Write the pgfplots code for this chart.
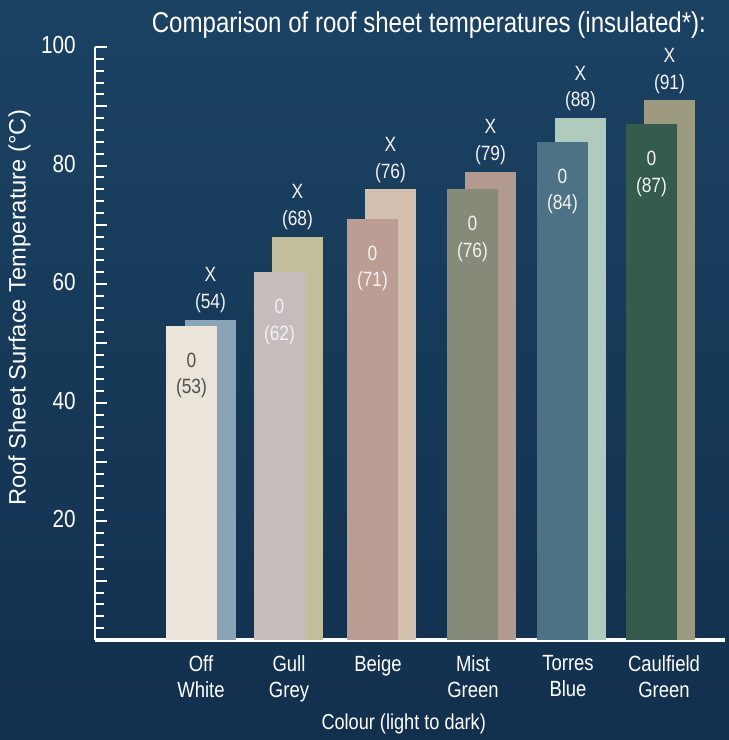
\documentclass[border=0pt]{standalone}
\usepackage{fontspec}
\setmainfont[FakeStretch=0.84]{Liberation Sans}
\newfontfamily\ylabfont{Liberation Sans}
\usepackage{pgfplots}
\pgfplotsset{compat=1.18}

% bar colours
\definecolor{bgtop}{HTML}{1B4263}
\definecolor{bgbot}{HTML}{12304D}
\definecolor{offwhite}{HTML}{EBE4D9}
\definecolor{offwhiteX}{HTML}{88A4B6}
\definecolor{gullgrey}{HTML}{C5BCBB}
\definecolor{gullgreyX}{HTML}{C2BD9B}
\definecolor{beige}{HTML}{BC9D93}
\definecolor{beigeX}{HTML}{D2BFAE}
\definecolor{mistgreen}{HTML}{858A79}
\definecolor{mistgreenX}{HTML}{B29A90}
\definecolor{torres}{HTML}{4D7185}
\definecolor{torresX}{HTML}{AECBBD}
\definecolor{caulfield}{HTML}{345B4C}
\definecolor{caulfieldX}{HTML}{9C9A80}
\definecolor{darklab}{HTML}{505050}
\definecolor{lightlab}{HTML}{F2F2F2}

\begin{document}
\begin{tikzpicture}
\shade[top color=bgtop, bottom color=bgbot] (0,0) rectangle (546.75pt,555pt);
\begin{axis}[
    at={(71.25pt,75pt)}, anchor=south west,
    scale only axis,
    width=472.5pt, height=444.75pt,
    xmin=95, xmax=725,
    ymin=0, ymax=100,
    clip=false,
    axis x line=bottom, axis y line=left,
    x axis line style={-, white, line width=3pt},
    y axis line style={-, white, line width=1.5pt},
    tick align=inside,
    xtick={201,289,378,473,568,664},
    xticklabels={Off\\White, Gull\\Grey, Beige, Mist\\Green, Torres\\Blue, Caulfield\\Green},
    x tick label style={align=center, text=white, font=\fontsize{16.5pt}{19.5pt}\selectfont, anchor=north, yshift=-8pt},
    major x tick style={draw=none},
    ytick={0,10,...,100},
    yticklabels={,,20,,40,,60,,80,,100},
    minor y tick num=4,
    y tick style={white, line width=1.5pt},
    major tick length=9pt,
    minor tick length=6.5pt,
    y tick label style={text=white, font=\fontsize{18.5pt}{21pt}\selectfont, xshift=-11pt, yshift=1.5pt},
    /pgf/number format/assume math mode=true,
    title={Comparison of roof sheet temperatures (insulated*):},
    title style={text=white, font=\fontsize{21.5pt}{25pt}\selectfont, at={(axis description cs:0.53,1.024)}, anchor=center},
    xlabel={Colour (light to dark)},
    xlabel style={text=white, font=\fontsize{16.2pt}{19pt}\selectfont, at={(axis description cs:0.49,-0.142)}, anchor=center},
    ylabel={Roof Sheet Surface Temperature (°C)},
    ylabel style={text=white, font=\ylabfont\fontsize{17.8pt}{20pt}\selectfont, at={(axis description cs:-0.12,0.56)}, rotate=0, anchor=center},
    backbar/.style={ybar, bar width=51, bar shift=0pt, fill=#1, draw=none,
        nodes near coords={X\\(\pgfmathprintnumber{\pgfplotspointmeta})},
        every node near coord/.style={align=center, anchor=south, inner sep=0pt, yshift=5pt,
            text=lightlab, font=\fontsize{15.5pt}{20pt}\selectfont}},
    frontbar/.style 2 args={ybar, bar width=51, bar shift=0pt, fill=#1, draw=none,
        nodes near coords={0\\(\pgfmathprintnumber{\pgfplotspointmeta})},
        every node near coord/.style={align=center, anchor=north, inner sep=0pt, yshift=-20pt,
            text=#2, font=\fontsize{15.5pt}{20pt}\selectfont}},
]
% X (behind, offset right)
\addplot[backbar=offwhiteX]  coordinates {(210.5,54)};
\addplot[backbar=gullgreyX]  coordinates {(297.5,68)};
\addplot[backbar=beigeX]     coordinates {(390.5,76)};
\addplot[backbar=mistgreenX] coordinates {(490.5,79)};
\addplot[backbar=torresX]    coordinates {(580.5,88)};
\addplot[backbar=caulfieldX] coordinates {(669.5,91)};
% 0 (front)
\addplot[frontbar={offwhite}{darklab}]   coordinates {(191.5,53)};
\addplot[frontbar={gullgrey}{lightlab}]  coordinates {(279.5,62)};
\addplot[frontbar={beige}{lightlab}]     coordinates {(372.5,71)};
\addplot[frontbar={mistgreen}{lightlab}] coordinates {(472.5,76)};
\addplot[frontbar={torres}{lightlab}]    coordinates {(562.5,84)};
\addplot[frontbar={caulfield}{lightlab}] coordinates {(651.5,87)};
\end{axis}
\pgfresetboundingbox
\path[use as bounding box] (0,0) rectangle (546.75pt,555pt);
\end{tikzpicture}
\end{document}
